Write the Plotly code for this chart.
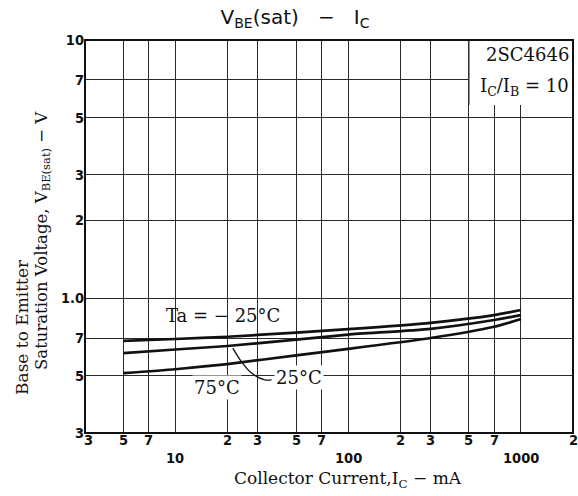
import numpy as np
import plotly.graph_objects as go

# ---- data ----
ic_ma = [5, 10, 20, 50, 100, 300, 700, 1000]
vbe_m25 = [0.683, 0.694, 0.708, 0.735, 0.758, 0.802, 0.859, 0.899]
vbe_25 = [0.612, 0.632, 0.652, 0.690, 0.722, 0.760, 0.822, 0.859]
vbe_75 = [0.512, 0.530, 0.555, 0.600, 0.635, 0.700, 0.774, 0.829]

x_grid = [3, 5, 7, 10, 20, 30, 50, 70, 100, 200, 300, 500, 700, 1000, 2000]
y_grid = [0.3, 0.5, 0.7, 1, 2, 3, 5, 7, 10]
y_tick_text = ["3", "5", "7", "1.0", "2", "3", "5", "7", "10"]

x_row1_vals = [3, 5, 7, 20, 30, 50, 70, 200, 300, 500, 700, 2000]
x_row1_text = ["3", "5", "7", "2", "3", "5", "7", "2", "3", "5", "7", "2"]
x_row2_vals = [10, 100, 1000]
x_row2_text = ["10", "100", "1000"]

# curve labels (x in mA, y in V)
curve_labels = ["Ta = − 25°C", "75°C", "25°C"]
curve_label_x = [18.8, 17.3, 52.0]
curve_label_y = [0.859, 0.452, 0.494]

# leader line from the 25°C label to its curve
leader_x = [21.5, 24.2, 27.6, 32.9, 36.0]
leader_y = [0.64, 0.565, 0.512, 0.482, 0.482]

SERIF = "DejaVu Serif, Liberation Serif, serif"
TICKFONT = dict(family="Liberation Sans Narrow, DejaVu Sans Condensed, Arial Narrow, sans-serif",
                size=14.5, color="#111", weight="bold")

fig = go.Figure()
for vals in (vbe_m25, vbe_25, vbe_75):
    fig.add_trace(go.Scatter(x=ic_ma, y=vals, mode="lines",
                             line=dict(color="#111", width=2.7, shape="spline", smoothing=0.6),
                             showlegend=False, hoverinfo="skip"))
fig.add_trace(go.Scatter(x=leader_x, y=leader_y, mode="lines",
                         line=dict(color="#111", width=1.3, shape="spline"),
                         showlegend=False, hoverinfo="skip"))

fig.update_xaxes(type="log", range=[np.log10(3), np.log10(2000)],
                 tickvals=x_grid, showticklabels=False, ticks="",
                 showgrid=True, gridcolor="#2a2a2a", gridwidth=1.1,
                 showline=False, zeroline=False)
fig.update_yaxes(type="log", range=[np.log10(0.3), 1],
                 tickvals=y_grid, ticktext=y_tick_text, ticks="",
                 tickfont=TICKFONT,
                 showgrid=True, gridcolor="#2a2a2a", gridwidth=1.1,
                 showline=False, zeroline=False)

annotations = []
for i, (v, t) in enumerate(zip(x_row1_vals, x_row1_text)):
    annotations.append(dict(x=np.log10(v), y=0, xref="x", yref="paper", text=t,
                            showarrow=False, xanchor="center", yanchor="top",
                            yshift=3, xshift=3 if i == 0 else 0, font=TICKFONT))
for v, t in zip(x_row2_vals, x_row2_text):
    annotations.append(dict(x=np.log10(v), y=0, xref="x", yref="paper", text=t,
                            showarrow=False, xanchor="center", yanchor="top",
                            yshift=-15, font=TICKFONT))
for t, lx, ly in zip(curve_labels, curve_label_x, curve_label_y):
    annotations.append(dict(x=np.log10(lx), y=np.log10(ly), xref="x", yref="y", text=t,
                            showarrow=False, xanchor="center", yanchor="middle",
                            font=dict(family=SERIF, size=18, color="#111"),
                            bgcolor="rgba(255,255,255,0)" if t.startswith("Ta") else "white"))

# box text top-right
annotations.append(dict(x=np.log10(1960), y=np.log10(8.8), xref="x", yref="y",
                        text="2SC4646", showarrow=False, xanchor="right", yanchor="middle",
                        font=dict(family=SERIF, size=18, color="#111")))
annotations.append(dict(x=np.log10(1960), y=np.log10(6.6), xref="x", yref="y",
                        text="I<sub>C</sub>/I<sub>B</sub> = 10", showarrow=False,
                        xanchor="right", yanchor="middle",
                        font=dict(family=SERIF, size=18, color="#111")))

# axis titles
annotations.append(dict(x=(348 - 85) / 488, y=0, xref="paper", yref="paper",
                        text="Collector Current,I<sub>C</sub> − mA", showarrow=False,
                        xanchor="center", yanchor="middle", yshift=-46,
                        font=dict(family=SERIF, size=17, color="#111")))
annotations.append(dict(x=(22 - 85) / 488, y=(433 - 327) / 393, xref="paper", yref="paper",
                        text="Base to Emitter", showarrow=False, textangle=-90,
                        xanchor="center", yanchor="middle",
                        font=dict(family=SERIF, size=17, color="#2a1010")))
annotations.append(dict(x=(42 - 85) / 488, y=(433 - 241) / 393, xref="paper", yref="paper",
                        text="Saturation Voltage, V<sub>BE(sat)</sub> − V", showarrow=False,
                        textangle=-90, xanchor="center", yanchor="middle",
                        font=dict(family=SERIF, size=16.5, color="#111")))

shapes = [
    dict(type="rect", xref="x", yref="y", x0=500, x1=2000, y0=5.6, y1=10,
         fillcolor="white", line=dict(width=0), layer="above"),
    dict(type="line", xref="x", yref="y", x0=500, x1=500, y0=5.6, y1=10,
         line=dict(color="#2a2a2a", width=1.1), layer="above"),
    dict(type="rect", xref="paper", yref="paper", x0=0, x1=1, y0=0, y1=1,
         line=dict(color="#111", width=2), layer="above"),
]

fig.update_layout(
    width=578, height=496,
    margin=dict(l=85, r=5, t=40, b=63),
    paper_bgcolor="white", plot_bgcolor="white",
    title=dict(text="V<sub>BE</sub>(sat)   −   I<sub>C</sub>",
               x=295 / 578, xanchor="center", y=1 - 17 / 496, yanchor="middle",
               xref="container", yref="container",
               font=dict(family="DejaVu Sans, Verdana, sans-serif", size=20, color="#111")),
    annotations=annotations,
    shapes=shapes,
)

fig.write_html("out.html", config={"displayModeBar": False},
               post_script="document.body.style.margin='0px';document.body.style.padding='0px';")
